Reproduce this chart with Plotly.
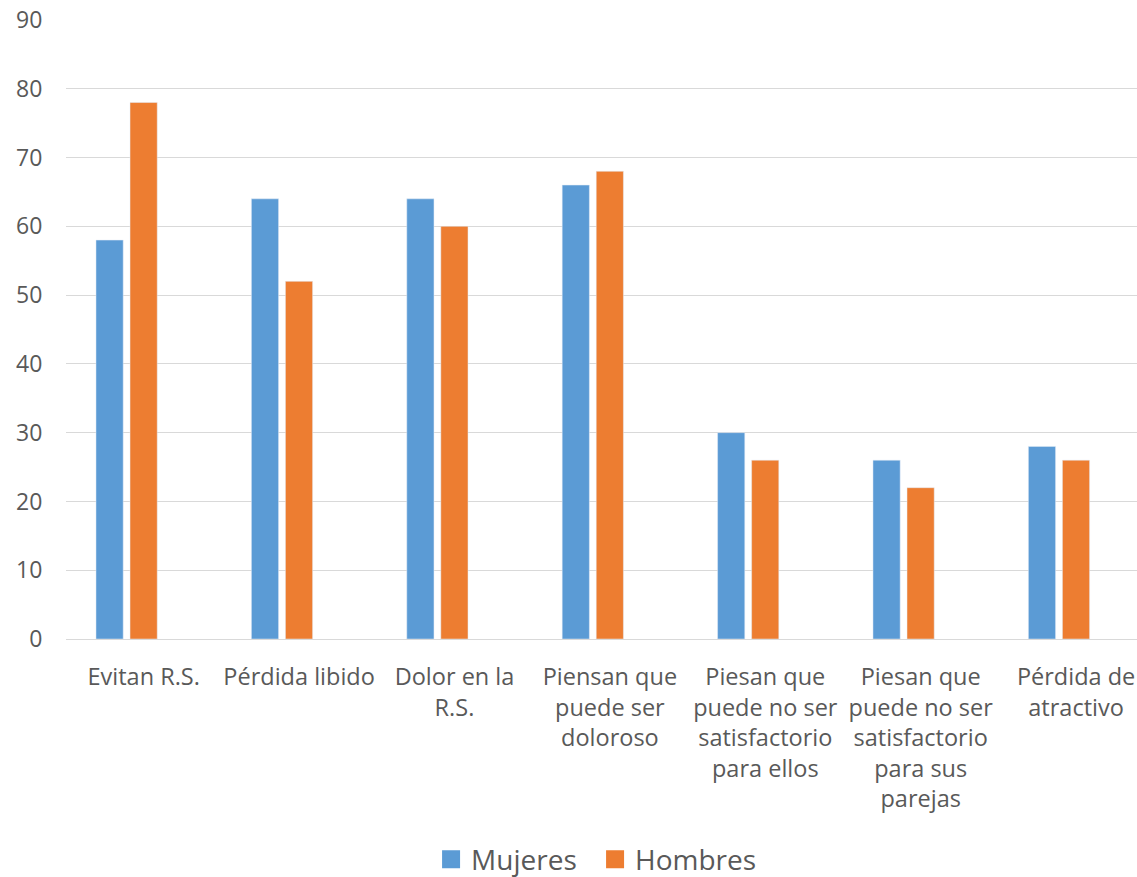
import plotly.graph_objects as go

categories = [
    "Evitan R.S.",
    "Pérdida libido",
    "Dolor en la<br>R.S.",
    "Piensan que<br>puede ser<br>doloroso",
    "Piesan que<br>puede no ser<br>satisfactorio<br>para ellos",
    "Piesan que<br>puede no ser<br>satisfactorio<br>para sus<br>parejas",
    "Pérdida de<br>atractivo",
]
mujeres = [58, 64, 64, 66, 30, 26, 28]
hombres = [78, 52, 60, 68, 26, 22, 26]
y_ticks = [0, 10, 20, 30, 40, 50, 60, 70, 80, 90]

BLUE = "#5B9BD5"
ORANGE = "#ED7D31"
TEXT = "#595959"
GRID = "#D9D9D9"
FONT = "Open Sans"

fig = go.Figure()
fig.add_trace(go.Bar(x=categories, y=mujeres, name="Mujeres", marker_color=BLUE,
                     width=0.175, offset=-0.307, showlegend=False))
fig.add_trace(go.Bar(x=categories, y=hombres, name="Hombres", marker_color=ORANGE,
                     width=0.175, offset=-0.088, showlegend=False))
# legend entries
fig.add_trace(go.Scatter(x=[None], y=[None], mode="markers", name="Mujeres",
                         marker=dict(symbol="square", size=16, color=BLUE,
                                     line=dict(width=2, color=BLUE))))
fig.add_trace(go.Scatter(x=[None], y=[None], mode="markers", name="Hombres",
                         marker=dict(symbol="square", size=16, color=ORANGE,
                                     line=dict(width=2, color=ORANGE))))

fig.update_layout(
    width=1137, height=877,
    margin=dict(l=66, r=0, t=20, b=238, pad=0, autoexpand=False),
    paper_bgcolor="white", plot_bgcolor="white",
    barmode="overlay",
    font=dict(family=FONT, color=TEXT, size=23),
    legend=dict(orientation="h", x=0.494, xanchor="center",
                yref="container", y=0.02, yanchor="middle",
                font=dict(size=28, color=TEXT, family=FONT),
                entrywidth=119, entrywidthmode="pixels"),
    showlegend=True,
)
fig.update_xaxes(type="category", range=[-0.5, 6.392], showgrid=False,
                 showline=False, zeroline=False, automargin=False,
                 ticks="outside", ticklen=17, tickcolor="rgba(0,0,0,0)",
                 tickfont=dict(size=23.5, color=TEXT, family=FONT), tickangle=0)
fig.update_yaxes(range=[0, 90], tickvals=y_ticks, showgrid=True, gridcolor=GRID, gridwidth=1,
                 zeroline=True, zerolinecolor=GRID, zerolinewidth=1, showline=False,
                 automargin=False,
                 ticks="outside", ticklen=18, tickcolor="rgba(0,0,0,0)",
                 tickfont=dict(size=23, color=TEXT, family=FONT))

fig.write_html("out.html")
